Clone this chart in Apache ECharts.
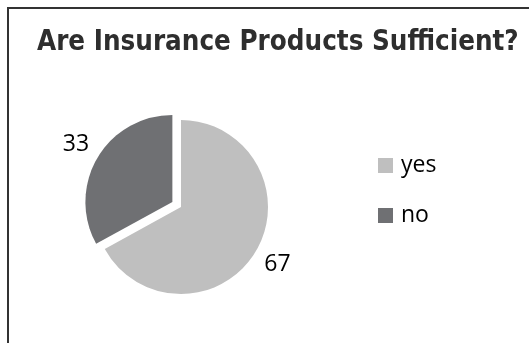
<!DOCTYPE html>
<html>
<head>
<meta charset="utf-8">
<script src="https://cdn.jsdelivr.net/npm/echarts@6/dist/echarts.min.js"></script>
<style>
  html, body { margin: 0; padding: 0; background: #fff; }
  #chart { width: 529px; height: 343px; }
</style>
</head>
<body>
<div id="chart"></div>
<script>
var titleText = 'Are Insurance Products Sufficient?';
var categories = ['yes', 'no'];
var values = [67, 33];
var sliceColors = ['#bfbfbf', '#6f7073'];
var explodedName = 'no';

var myChart = echarts.init(document.getElementById('chart'));

var pieData = categories.map(function (name, i) {
  return {
    name: name,
    value: values[i],
    selected: name === explodedName,
    itemStyle: { color: sliceColors[i] }
  };
});

var option = {
  animation: false,
  title: {
    text: titleText,
    left: 37,
    top: 29,
    padding: 0,
    textStyle: {
      fontFamily: '"Liberation Sans Narrow", "DejaVu Sans Condensed", sans-serif',
      fontWeight: 'bold',
      fontSize: 27.5,
      color: '#2e2e2e'
    }
  },
  legend: {
    orient: 'vertical',
    left: 378,
    top: 154,
    padding: 0,
    itemWidth: 15,
    itemHeight: 15,
    itemGap: 27,
    icon: 'rect',
    selectedMode: false,
    data: categories,
    textStyle: {
      fontFamily: '"Open Sans", sans-serif',
      fontSize: 23,
      color: '#000',
      padding: [0, 0, 0, 3]
    }
  },
  graphic: [{
    type: 'rect',
    silent: true,
    shape: { x: 8, y: 8, width: 600, height: 400 },
    style: { fill: 'none', stroke: '#333', lineWidth: 2 }
  }],
  series: [
    {
      type: 'pie',
      center: [181, 207],
      radius: 87,
      startAngle: 90,
      selectedMode: 'single',
      selectedOffset: 10,
      silent: true,
      label: { show: false },
      labelLine: { show: false },
      data: pieData
    },
    {
      // transparent ring that only carries the value labels
      type: 'pie',
      center: [181, 207],
      radius: [87, 131],
      startAngle: 90,
      selectedMode: 'single',
      selectedOffset: 10,
      silent: true,
      itemStyle: { color: 'rgba(0,0,0,0)' },
      label: {
        show: true,
        position: 'inside',
        formatter: '{c}',
        fontFamily: '"Open Sans", sans-serif',
        fontSize: 23,
        color: '#000'
      },
      labelLine: { show: false },
      data: categories.map(function (name, i) {
        return { name: name, value: values[i], selected: name === explodedName };
      })
    }
  ]
};

option && myChart.setOption(option);
window.addEventListener('resize', function () {
  myChart.resize();
});
</script>
</body>
</html>
